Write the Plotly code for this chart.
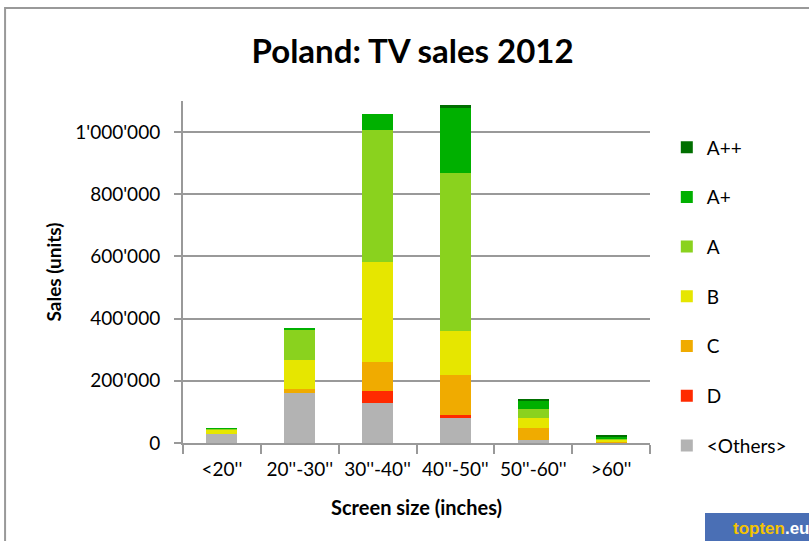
import plotly.graph_objects as go

categories = ["<20''", "20''-30''", "30''-40''", "40''-50''", "50''-60''", ">60''"]

others = [29000, 160000, 128000, 83000, 10000, 3000]
d_cls = [0, 0, 39000, 6000, 0, 0]
c_cls = [1000, 14000, 92000, 131000, 38000, 2000]
b_cls = [12000, 92000, 323000, 139000, 33000, 5000]
a_cls = [5000, 100000, 424000, 508000, 27000, 3000]
ap_cls = [1000, 5000, 52000, 213000, 26000, 8000]
app_cls = [0, 0, 0, 6000, 7000, 2000]

series = [
    ("<Others>", others, "#b3b3b3"),
    ("D", d_cls, "#ff2a00"),
    ("C", c_cls, "#f0ab00"),
    ("B", b_cls, "#e6e600"),
    ("A", a_cls, "#8ad21e"),
    ("A+", ap_cls, "#00b000"),
    ("A++", app_cls, "#006f00"),
]

y_ticks = [0, 200000, 400000, 600000, 800000, 1000000]
y_tick_text = ["0", "200'000", "400'000", "600'000", "800'000", "1'000'000"]

FONT = "Lato"

fig = go.Figure()
n = len(series)
for i, (name, vals, col) in enumerate(series):
    fig.add_trace(go.Bar(
        x=categories, y=vals, name=name, marker_color=col,
        marker_line_width=0, legendrank=n - i, legendgroup=name,
    ))

fig.update_layout(
    barmode="stack",
    bargap=0.6,
    width=809, height=541,
    margin=dict(l=183, r=159, t=101, b=98),
    paper_bgcolor="white", plot_bgcolor="white",
    font=dict(family=FONT, size=19, color="black"),
    title=dict(text="<b>Poland: TV sales 2012</b>", x=0.51, xanchor="center",
               y=0.905, yanchor="middle", font=dict(size=33, family=FONT)),
    legend=dict(traceorder="grouped", x=1.036, xanchor="left",
                y=0.92, yanchor="top", tracegroupgap=22,
                font=dict(size=19, family=FONT), itemwidth=30),
    showlegend=True,
)

fig.update_xaxes(
    type="category", showline=True, linecolor="#999999", linewidth=2,
    ticks="outside", tickson="boundaries", ticklen=9, tickcolor="#999999",
    tickwidth=2, showgrid=False, automargin=False, ticklabelstandoff=8,
    title=dict(text="<b>Screen size (inches)</b>", font=dict(size=20), standoff=22),
)
fig.update_yaxes(
    range=[0, 1100000], tickvals=y_ticks, ticktext=y_tick_text,
    showline=True, linecolor="#999999", linewidth=2,
    ticks="outside", ticklen=7, tickcolor="#999999", tickwidth=2,
    showgrid=True, gridcolor="#999999", gridwidth=2, zeroline=False,
    automargin=False, ticklabelstandoff=10,
    title=dict(text="<b>Sales (units)</b>", font=dict(size=19), standoff=9),
)

# outer chart frame
fig.add_shape(type="rect", xref="paper", yref="paper",
              x0=-0.381, x1=2.0, y0=-1.0, y1=1.272,
              line=dict(color="#999999", width=2), fillcolor="rgba(0,0,0,0)", layer="below")

# topten logo
fig.add_shape(type="rect", xref="paper", yref="paper",
              x0=(705 - 183) / 467, x1=(815 - 183) / 467,
              y0=(443 - 545) / 342, y1=(443 - 513) / 342,
              line=dict(width=0), fillcolor="#4a6fb5")
fig.add_annotation(xref="paper", yref="paper",
                   x=(731 - 183) / 467, y=(443 - 528) / 342,
                   xanchor="left", yanchor="middle", showarrow=False,
                   text="<b><span style='color:#f5c400'>topten</span><span style='color:white'>.eu</span></b>",
                   font=dict(size=17, family="Liberation Sans"))

fig.write_html("out.html", config={"displayModeBar": False},
               post_script="document.body.style.margin='0px';")
